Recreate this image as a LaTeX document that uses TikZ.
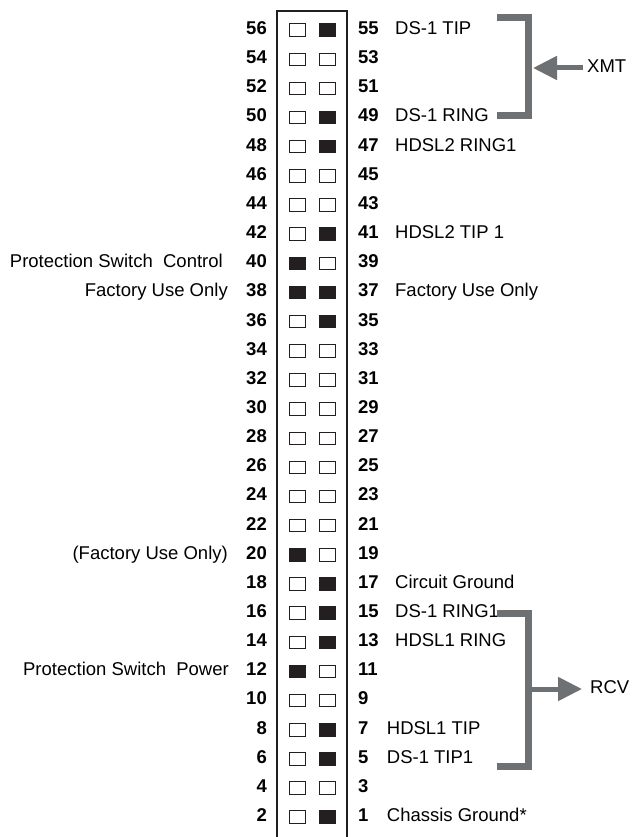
\documentclass[tikz,border=0pt]{standalone}
\usepackage{fontspec}
\setmainfont{Liberation Sans}
\usetikzlibrary{arrows.meta,positioning}
\definecolor{pinblack}{RGB}{35,31,32}
\definecolor{brgray}{RGB}{110,113,115}

\begin{document}
\begin{tikzpicture}[x=1pt,y=-1pt,
    pinnum/.style={font=\bfseries\fontsize{18.5}{18.5}\selectfont,inner sep=0pt,text height=13pt,text depth=4pt},
    pinlbl/.style={font=\fontsize{18.5}{18.5}\selectfont,inner sep=0pt,text height=13pt,text depth=4pt},
    pinbox/.style={draw=pinblack,line width=0.7pt,minimum width=16pt,minimum height=12.5pt,inner sep=0pt},
    bracket/.style={draw=brgray,line width=7pt,miter limit=10},
    sigarrow/.style={draw=brgray,line width=5pt,-{Triangle[length=24pt,width=23pt]}}]
    \useasboundingbox (0,0) rectangle (636,837);

    % connector body
    \draw[line width=2pt,pinblack] (277,840) -- (277,11) -- (347,11) -- (347,840);

    % pin rows
    \foreach \n/\lf/\rf [count=\i from 0] in {56/white/pinblack, 54/white/white, 52/white/white,
        50/white/pinblack, 48/white/pinblack, 46/white/white, 44/white/white, 42/white/pinblack,
        40/pinblack/white, 38/pinblack/pinblack, 36/white/pinblack, 34/white/white, 32/white/white,
        30/white/white, 28/white/white, 26/white/white, 24/white/white, 22/white/white,
        20/pinblack/white, 18/white/pinblack, 16/white/pinblack, 14/white/pinblack,
        12/pinblack/white, 10/white/white, 8/white/pinblack, 6/white/pinblack, 4/white/white,
        2/white/pinblack}
    {
        \pgfmathtruncatemacro{\m}{\n-1}
        \pgfmathsetmacro{\yy}{30+\i*29.15}
        \node[pinnum,anchor=east] (L\n) at (267,\yy) {\n};
        \node[pinbox,fill=\lf] (pl\n) at (297,\yy) {};
        \node[pinbox,fill=\rf] (pr\m) at (327.5,\yy) {};
        \node[pinnum,anchor=west] (R\m) at (358,\yy) {\m};
    }

    % right side signals
    \node[pinlbl,right=16pt of R55] (dstip) {DS-1 TIP};
    \node[pinlbl,right=16pt of R49] (dsring) {DS-1 RING};
    \node[pinlbl,right=16pt of R47] (hd2ring) {HDSL2 RING1};
    \node[pinlbl,right=16pt of R41] (hd2tip) {HDSL2 TIP 1};
    \node[pinlbl,right=16pt of R37] (fac37) {Factory Use Only};
    \node[pinlbl,right=16pt of R17] (cgnd) {Circuit Ground};
    \node[pinlbl,right=16pt of R15] (dsring1) {DS-1 RING1};
    \node[pinlbl,right=16pt of R13] (hd1ring) {HDSL1 RING};
    \node[pinlbl,right=18pt of R7] (hd1tip) {HDSL1 TIP};
    \node[pinlbl,right=18pt of R5] (dstip1) {DS-1 TIP1};
    \node[pinlbl,right=18pt of R1] (chgnd) {Chassis Ground*};

    % left side signals
    \node[pinlbl,anchor=east] (psctl) at (223,0|-L40) {Protection Switch\ \ Control};
    \node[pinlbl,anchor=east] (fac38) at (228,0|-L38) {Factory Use Only};
    \node[pinlbl,anchor=east] (fac20) at (228,0|-L20) {(Factory Use Only)};
    \node[pinlbl,anchor=east] (pspwr) at (229,0|-L12) {Protection Switch\ \ Power};

    % XMT bracket
    \draw[bracket] (497,18) -- (528,18) -- (528,116) -- (497,116);
    \coordinate (xmtin) at (533,68);
    \node[pinlbl,anchor=west] (xmt) at (587,68) {XMT};
    \draw[sigarrow] ([xshift=-4pt]xmt.west) -- (xmtin);

    % RCV bracket
    \draw[bracket] (497,613) -- (528,613) -- (528,766) -- (497,766);
    \coordinate (rcvout) at (531,689);
    \node[pinlbl,anchor=west] (rcv) at (590,689) {RCV};
    \draw[sigarrow] (rcvout) -- ([xshift=-8pt]rcv.west);
\end{tikzpicture}
\end{document}
